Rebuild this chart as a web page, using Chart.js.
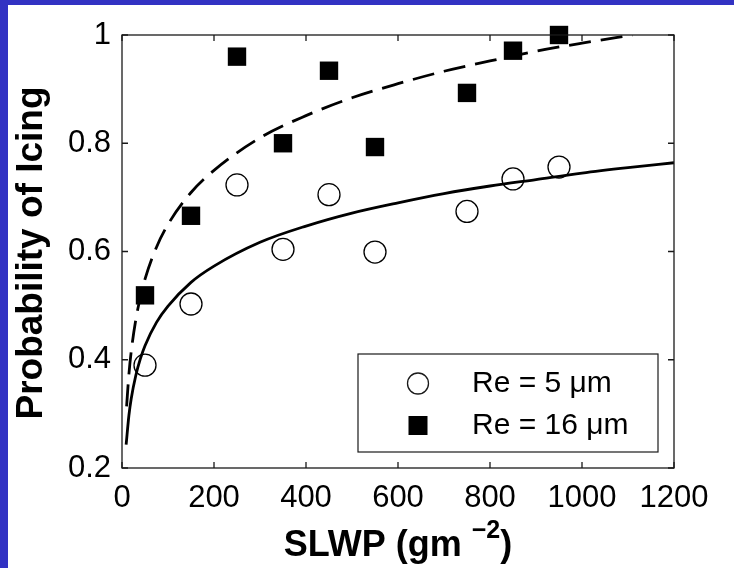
<!DOCTYPE html>
<html>
<head>
<meta charset="utf-8">
<script src="https://cdn.jsdelivr.net/npm/chart.js@4.4.1/dist/chart.umd.min.js"></script>
<style>
  html, body { margin: 0; padding: 0; background: #fff; }
  #wrap { position: relative; width: 734px; height: 568px; }
  .edge { position: absolute; background: rgb(50, 50, 195); }
</style>
</head>
<body>
<div id="wrap">
  <canvas id="chart" width="734" height="568"></canvas>
  <div class="edge" style="left:0;top:0;width:8px;height:568px"></div>
  <div class="edge" style="left:0;top:0;width:734px;height:5px"></div>
</div>
<script>
// measured points
const slwp = [50, 150, 250, 350, 450, 550, 750, 850, 950];
const re5 = [0.390, 0.503, 0.723, 0.604, 0.705, 0.599, 0.674, 0.734, 0.756];
const re16 = [0.519, 0.666, 0.960, 0.800, 0.934, 0.793, 0.893, 0.971, 1.0];

// fitted curves
const fitX5 = [9, 15, 20, 30, 40, 50, 75, 100, 150, 200, 300, 400, 500, 600, 700, 800, 900, 1000, 1100, 1200];
const fit5 = [0.243, 0.297, 0.328, 0.371, 0.402, 0.426, 0.469, 0.499, 0.543, 0.573, 0.617, 0.647, 0.671, 0.690, 0.707, 0.721, 0.733, 0.745, 0.755, 0.764];
const fitX16 = [10, 15, 20, 30, 40, 50, 75, 100, 150, 200, 300, 400, 500, 600, 700, 800, 900, 1000, 1110];
const fit16 = [0.314, 0.373, 0.415, 0.474, 0.516, 0.549, 0.608, 0.650, 0.709, 0.750, 0.810, 0.851, 0.884, 0.910, 0.933, 0.952, 0.970, 0.985, 1.0];

const xTicks = [0, 200, 400, 600, 800, 1000, 1200];
const yTicks = [0.2, 0.4, 0.6, 0.8, 1];
const legendLabels = ['Re = 5 \u03bcm', 'Re = 16 \u03bcm'];

const FONT = "'Liberation Sans', Arial, Helvetica, sans-serif";

function pts(xs, ys) {
    return xs.map((x, i) => ({ x: x, y: ys[i] }));
}

// box, inner ticks, titles and legend (matlab look)
const matlabFrame = {
    id: 'matlabFrame',
    afterDraw(chart) {
        const ctx = chart.ctx;
        const a = chart.chartArea;
        const xs = chart.scales.x;
        const ys = chart.scales.y;
        ctx.save();
        ctx.strokeStyle = '#1a1a1a';
        ctx.lineWidth = 1.3;
        ctx.strokeRect(a.left, a.top, a.right - a.left, a.bottom - a.top);

        const tl = 6;
        ctx.beginPath();
        xTicks.forEach(v => {
            const px = xs.getPixelForValue(v);
            ctx.moveTo(px, a.bottom); ctx.lineTo(px, a.bottom - tl);
            ctx.moveTo(px, a.top); ctx.lineTo(px, a.top + tl);
        });
        yTicks.forEach(v => {
            const py = ys.getPixelForValue(v);
            ctx.moveTo(a.left, py); ctx.lineTo(a.left + tl, py);
            ctx.moveTo(a.right, py); ctx.lineTo(a.right - tl, py);
        });
        ctx.stroke();

        // legend box
        const lx = 358, ly = 354, lw = 300, lh = 98;
        ctx.fillStyle = '#fff';
        ctx.fillRect(lx, ly, lw, lh);
        ctx.strokeStyle = '#1a1a1a';
        ctx.lineWidth = 1.2;
        ctx.strokeRect(lx, ly, lw, lh);

        ctx.lineWidth = 1.3;
        ctx.beginPath();
        ctx.arc(418, 383.5, 10.5, 0, Math.PI * 2);
        ctx.stroke();
        ctx.fillStyle = '#000';
        ctx.fillRect(408.5, 416, 19, 19);

        ctx.fillStyle = '#000';
        ctx.font = '30px ' + FONT;
        ctx.textAlign = 'left';
        ctx.textBaseline = 'middle';
        ctx.fillText(legendLabels[0], 472, 384);
        ctx.fillText(legendLabels[1], 472, 426);

        // x title with superscript
        ctx.textBaseline = 'alphabetic';
        const main = 'SLWP (gm ';
        const sup = '\u22122';
        ctx.font = 'bold 36px ' + FONT;
        const w1 = ctx.measureText(main).width;
        ctx.font = 'bold 25px ' + FONT;
        const w2 = ctx.measureText(sup).width;
        ctx.font = 'bold 36px ' + FONT;
        const w3 = ctx.measureText(')').width;
        const cx = (a.left + a.right) / 2;
        const x0 = cx - (w1 + w2 + w3) / 2;
        const base = 556;
        ctx.fillText(main, x0, base);
        ctx.font = 'bold 25px ' + FONT;
        ctx.fillText(sup, x0 + w1, base - 18);
        ctx.font = 'bold 36px ' + FONT;
        ctx.fillText(')', x0 + w1 + w2, base);

        // y title
        ctx.translate(32, 253);
        ctx.rotate(-Math.PI / 2);
        ctx.textAlign = 'center';
        ctx.textBaseline = 'middle';
        ctx.font = 'bold 37px ' + FONT;
        ctx.fillText('Probability of Icing', 0, 0);
        ctx.restore();
    }
};

new Chart(document.getElementById('chart'), {
    type: 'scatter',
    data: {
        datasets: [
            {
                label: 'fit5',
                data: pts(fitX5, fit5),
                showLine: true,
                borderColor: '#000',
                borderWidth: 2.8,
                pointRadius: 0,
                cubicInterpolationMode: 'monotone',
                clip: 0
            },
            {
                label: 'fit16',
                data: pts(fitX16, fit16),
                showLine: true,
                borderColor: '#000',
                borderWidth: 2.8,
                borderDash: [22, 10],
                pointRadius: 0,
                cubicInterpolationMode: 'monotone',
                clip: 0
            },
            {
                label: legendLabels[0],
                data: pts(slwp, re5),
                pointStyle: 'circle',
                pointRadius: 11,
                borderColor: '#000',
                borderWidth: 1.3,
                backgroundColor: 'rgba(0,0,0,0)',
                clip: false
            },
            {
                label: legendLabels[1],
                data: pts(slwp, re16),
                pointStyle: 'rect',
                pointRadius: 13,
                borderColor: '#000',
                borderWidth: 0,
                backgroundColor: '#000',
                clip: false
            }
        ]
    },
    options: {
        responsive: false,
        animation: false,
        events: [],
        layout: { padding: { left: 0, right: 60, top: 35, bottom: 0 } },
        plugins: {
            legend: { display: false },
            tooltip: { enabled: false }
        },
        scales: {
            x: {
                type: 'linear',
                min: 0,
                max: 1200,
                afterBuildTicks: s => { s.ticks = xTicks.map(v => ({ value: v })); },
                afterFit: s => { s.height = 100; },
                grid: { display: false, drawTicks: false },
                border: { display: false },
                ticks: {
                    color: '#000',
                    padding: 12,
                    font: { family: FONT, size: 31 },
                    maxRotation: 0,
                    callback: v => String(v)
                }
            },
            y: {
                type: 'linear',
                min: 0.2,
                max: 1,
                afterBuildTicks: s => { s.ticks = yTicks.map(v => ({ value: v })); },
                afterFit: s => { s.width = 122; },
                grid: { display: false, drawTicks: false },
                border: { display: false },
                ticks: {
                    color: '#000',
                    padding: 11,
                    font: { family: FONT, size: 31 },
                    callback: v => Math.abs(v - 1) < 1e-9 ? '1' : v.toFixed(1)
                }
            }
        }
    },
    plugins: [matlabFrame]
});
</script>
</body>
</html>
